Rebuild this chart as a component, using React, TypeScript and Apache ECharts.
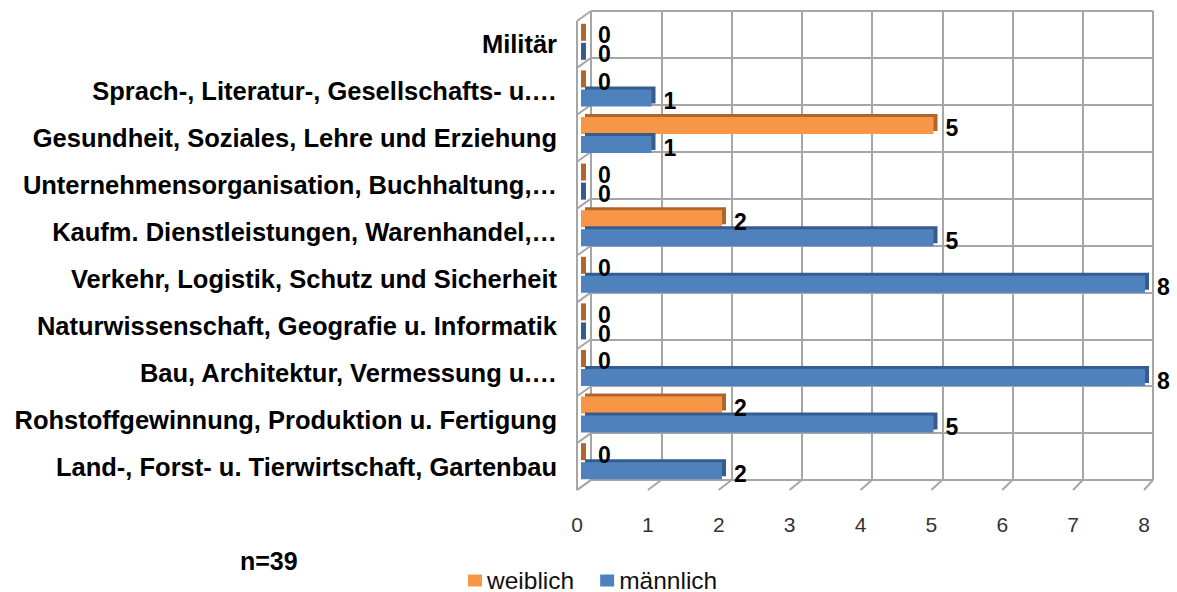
import React, { useEffect, useRef } from 'react';
import * as echarts from 'echarts';

// ---- data ----
const CATEGORIES = [
  'Militär',
  'Sprach-, Literatur-, Gesellschafts- u.…',
  'Gesundheit, Soziales, Lehre und Erziehung',
  'Unternehmensorganisation, Buchhaltung,…',
  'Kaufm. Dienstleistungen, Warenhandel,…',
  'Verkehr, Logistik, Schutz und Sicherheit',
  'Naturwissenschaft, Geografie u. Informatik',
  'Bau, Architektur, Vermessung u.…',
  'Rohstoffgewinnung, Produktion u. Fertigung',
  'Land-, Forst- u. Tierwirtschaft, Gartenbau',
];
const WEIBLICH = [0, 0, 5, 0, 2, 0, 0, 0, 2, 0];
const MAENNLICH = [0, 1, 1, 0, 5, 8, 0, 8, 5, 2];
const SERIES_NAMES = ['weiblich', 'männlich'];
const X_MIN = 0;
const X_MAX = 8;
const X_INTERVAL = 1;
const NOTE = 'n=39';

// ---- style ----
const FONT = '"Liberation Sans", Arial, Helvetica, sans-serif';
const ORANGE = '#F79646';
const ORANGE_DARK = '#B0662C';
const BLUE = '#4F81BD';
const BLUE_DARK = '#355C8C';
const GRID_COLOR = '#A6A6A6';

const BACK = { left: 591, top: 11, width: 562, height: 469 };
const FRONT = { left: 577, top: 21, width: 567, height: 469 };
const BARS = { left: 581, top: 18.5, width: 564, height: 466 };

export default function App() {
  const ref = useRef<HTMLDivElement>(null);

  useEffect(() => {
    const chart = echarts.init(ref.current as HTMLDivElement, null, { renderer: 'svg' });
    const n = CATEGORIES.length;
    const steps = (X_MAX - X_MIN) / X_INTERVAL;
    const lineStyle = { stroke: GRID_COLOR, lineWidth: 2 };

    const graphics: any[] = [];
    graphics.push({
      type: 'line',
      silent: true,
      z: 0,
      shape: { x1: FRONT.left, y1: FRONT.top, x2: FRONT.left, y2: FRONT.top + FRONT.height },
      style: lineStyle,
    });
    for (let j = 0; j <= n; j++) {
      graphics.push({
        type: 'line',
        silent: true,
        z: 0,
        shape: {
          x1: FRONT.left,
          y1: FRONT.top + (j * FRONT.height) / n,
          x2: BACK.left,
          y2: BACK.top + (j * BACK.height) / n,
        },
        style: lineStyle,
      });
    }
    for (let k = 0; k <= steps; k++) {
      graphics.push({
        type: 'line',
        silent: true,
        z: 0,
        shape: {
          x1: FRONT.left + (k * FRONT.width) / steps,
          y1: FRONT.top + FRONT.height,
          x2: BACK.left + (k * BACK.width) / steps,
          y2: BACK.top + BACK.height,
        },
        style: lineStyle,
      });
    }

    const label = {
      show: true,
      position: 'right',
      distance: 12,
      offset: [0, 3],
      fontSize: 23,
      fontWeight: 'bold',
      color: '#000',
      fontFamily: FONT,
    };

    const mkSeries = (name: string, values: number[], color: string, dark: string) => ({
      type: 'bar',
      name,
      xAxisIndex: 2,
      yAxisIndex: 2,
      barWidth: 17,
      barGap: '12%',
      barMinHeight: 5,
      data: values.map((v) =>
        v === 0
          ? {
              value: v,
              itemStyle: {
                color: dark,
                shadowColor: dark,
                shadowBlur: 0,
                shadowOffsetX: 0,
                shadowOffsetY: 0,
              },
            }
          : v
      ),
      itemStyle: {
        color,
        shadowColor: dark,
        shadowBlur: 0,
        shadowOffsetX: 4,
        shadowOffsetY: -3,
      },
      label,
    });

    chart.setOption({
      animation: false,
      backgroundColor: '#fff',
      textStyle: { fontFamily: FONT },
      title: {
        text: NOTE,
        left: 240,
        top: 548,
        padding: 0,
        textStyle: { fontSize: 25, fontWeight: 'bold', color: '#000', fontFamily: FONT },
      },
      legend: {
        data: SERIES_NAMES,
        left: 468,
        top: 568,
        padding: 0,
        icon: 'rect',
        itemWidth: 14,
        itemHeight: 12,
        itemGap: 26,
        itemStyle: { shadowColor: 'rgba(0,0,0,0)', shadowBlur: 0, shadowOffsetX: 0, shadowOffsetY: 0 },
        textStyle: { fontSize: 24.5, lineHeight: 20, color: '#111', fontFamily: FONT },
      },
      grid: [
        { ...BACK, containLabel: false },
        { ...FRONT, containLabel: false },
        { ...BARS, containLabel: false },
      ],
      xAxis: [
        {
          gridIndex: 0,
          type: 'value',
          min: X_MIN,
          max: X_MAX,
          interval: X_INTERVAL,
          axisLine: { show: false },
          axisTick: { show: false },
          axisLabel: { show: false },
          splitLine: { show: true, lineStyle: { color: GRID_COLOR, width: 2 } },
        },
        {
          gridIndex: 1,
          type: 'value',
          min: X_MIN,
          max: X_MAX,
          interval: X_INTERVAL,
          axisLine: { show: false },
          axisTick: { show: false },
          splitLine: { show: false },
          axisLabel: { show: true, margin: 24, fontSize: 21, color: '#333', fontFamily: FONT },
        },
        {
          gridIndex: 2,
          type: 'value',
          min: X_MIN,
          max: X_MAX,
          interval: X_INTERVAL,
          show: false,
        },
      ],
      yAxis: [
        {
          gridIndex: 0,
          type: 'category',
          inverse: true,
          data: CATEGORIES,
          axisLine: { show: false },
          axisTick: { show: false },
          axisLabel: { show: false },
          splitLine: { show: true, interval: 0, lineStyle: { color: GRID_COLOR, width: 2 } },
        },
        {
          gridIndex: 1,
          type: 'category',
          inverse: true,
          data: CATEGORIES,
          axisLine: { show: false },
          axisTick: { show: false },
          splitLine: { show: false },
          axisLabel: {
            show: true,
            interval: 0,
            margin: 20,
            fontSize: 25.5,
            fontWeight: 'bold',
            color: '#000',
            fontFamily: FONT,
          },
        },
        {
          gridIndex: 2,
          type: 'category',
          inverse: true,
          data: CATEGORIES,
          show: false,
        },
      ],
      graphic: graphics,
      series: [
        mkSeries(SERIES_NAMES[0], WEIBLICH, ORANGE, ORANGE_DARK),
        mkSeries(SERIES_NAMES[1], MAENNLICH, BLUE, BLUE_DARK),
      ],
    });

    return () => chart.dispose();
  }, []);

  return (
    <div
      ref={ref}
      style={{ position: 'absolute', left: 0, top: 0, width: 1177, height: 592 }}
    />
  );
}
